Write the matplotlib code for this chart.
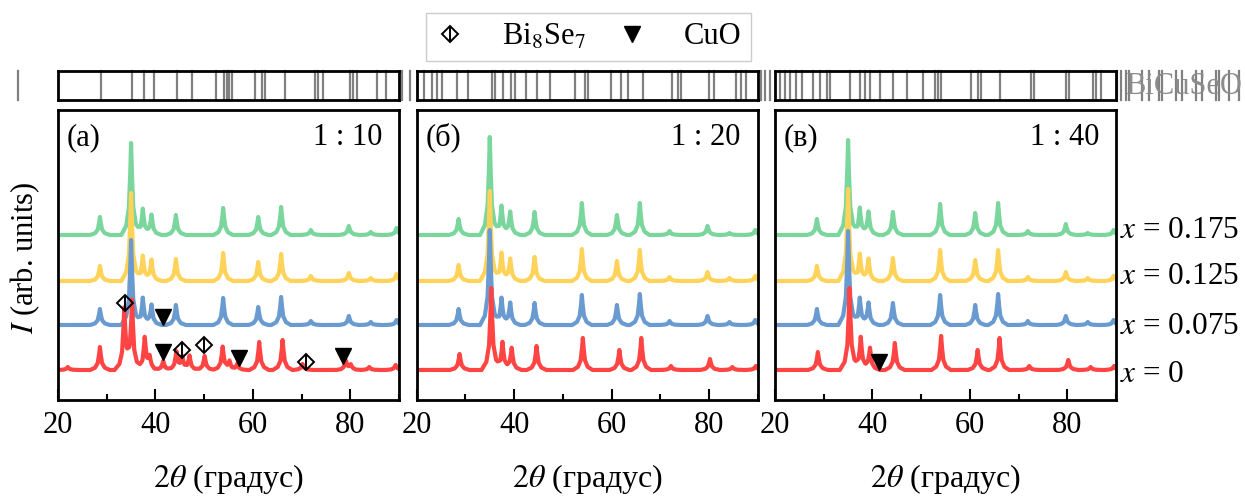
import numpy as np
import matplotlib
matplotlib.use("Agg")
import matplotlib.pyplot as plt
from matplotlib.lines import Line2D
from matplotlib.legend_handler import HandlerTuple
import matplotlib.transforms as mtransforms

plt.rcParams["font.family"] = ["Liberation Serif", "DejaVu Serif"]
plt.rcParams["mathtext.fontset"] = "stix"

PANEL_TAGS = ["(a)", "(б)", "(в)"]
RATIOS = ["1 : 10", "1 : 20", "1 : 40"]
SAMPLE_LABELS = ["$x$ = 0", "$x$ = 0.075", "$x$ = 0.125", "$x$ = 0.175"]
COLORS = ["#ff4444", "#6a9bd0", "#ffd35a", "#7ad69c"]

# BiCuSeO reflections, 2theta (deg)
PEAKS = [28.6, 35.0, 37.4, 39.2, 44.2, 53.9, 61.1, 65.8, 71.9, 79.7, 84.2, 89.5]
PEAKS_X0 = [28.8, 35.3, 37.6, 39.5, 44.6, 54.1, 61.6, 66.1, 72.2, 80.2, 84.8, 89.6]

# peak heights (arb. units)
A_X0175 = [18, 92, 26, 20, 20, 27, 18, 28, 5, 9, 3, 7]
A_X0125 = [15, 88, 25, 21, 22, 28, 19, 27, 5, 8, 3, 7]
A_X0075 = [16, 85, 27, 20, 20, 27, 18, 28, 4, 9, 3, 5]
# x = 0 in panel (a) is multiphase
A_X0_POS = [22.0, 28.6, 33.6, 35.2, 37.8, 38.8, 41.6, 44.3, 45.5, 47.0, 50.1,
            53.8, 55.2, 56.8, 61.3, 66.1, 70.2, 79.1, 80.1, 83.9, 89.3]
A_X0 = [3, 23, 60, 68, 32, 12, 9, 18, 12, 14, 14, 23, 8, 6, 28, 30, 6, 9, 5, 3, 5]

B_X0175 = [16, 98, 29, 23, 23, 32, 20, 32, 4, 9, 2, 5]
B_X0125 = [16, 90, 28, 22, 24, 32, 20, 31, 4, 9, 3, 5]
B_X0075 = [16, 95, 27, 22, 22, 30, 20, 31, 4, 9, 3, 5]
B_X0 = [16, 82, 28, 22, 24, 32, 20, 32, 4, 11, 3, 4]

C_X0175 = [16, 95, 27, 23, 23, 31, 22, 32, 4, 11, 2, 5]
C_X0125 = [15, 92, 27, 22, 23, 31, 21, 31, 4, 9, 3, 5]
C_X0075 = [16, 94, 27, 22, 22, 30, 20, 31, 4, 9, 3, 5]
C_X0 = [18, 82, 33, 22, 27, 34, 20, 32, 4, 10, 3, 4]

# impurity markers (2theta, intensity level)
BI8SE7_A_TTH = [33.7, 45.5, 49.9, 70.9]
BI8SE7_A_Y = [97, 50, 55, 38]
CUO_A_TTH = [41.6, 41.6, 57.1, 78.6]
CUO_A_Y = [83, 48, 42, 44]
CUO_C_TTH = [41.3]
CUO_C_Y = [38]

# reference line positions in the top strips
STRIP_A = [11.8, 28.9, 35.2, 37.7, 39.7, 44.4, 47.5, 52.5, 54.1, 54.7, 55.2, 55.7,
           60.5, 61.8, 62.5, 66.5, 72.7, 73.4, 74.4, 80.0, 80.6, 81.4, 85.4, 87.4,
           90.6, 92.2]
STRIP_B = [21.4, 23.1, 24.1, 25.1, 28.2, 30.6, 35.4, 36.0, 37.7, 39.4, 40.1, 42.5,
           44.6, 47.3, 52.4, 54.5, 55.1, 59.9, 62.0, 63.3, 66.4, 72.5, 73.6, 74.2,
           80.0, 81.1, 85.5, 86.5, 87.6, 90.6, 91.6, 92.6]
STRIP_C = [21.0, 22.0, 23.1, 24.4, 25.5, 27.8, 29.2, 30.6, 31.3, 35.4, 37.4, 38.4,
           39.4, 41.5, 44.2, 47.0, 50.4, 52.8, 53.4, 54.1, 60.3, 61.6, 62.3, 66.1,
           72.5, 73.2, 79.7, 80.4, 85.2, 85.9, 86.9, 90.2, 91.0, 92.1, 92.7, 95.3,
           96.8, 98.8, 99.4, 102.3, 103.5, 106.4, 107.6, 110.5, 111.1, 113.1, 115.2]

OFFSETS = [30, 75, 119, 165]
LABEL_Y = [25, 73, 123, 170]
PROFILE_DX = np.array([-2.0, -1.0, -0.45, -0.15, 0.0, 0.15, 0.45, 1.0, 2.0])
PROFILE_F = np.array([0.0, 0.1, 0.3, 0.7, 1.0, 0.7, 0.3, 0.1, 0.0])
grid = np.linspace(20, 90, 1401)


def pattern(pos, heights):
    y = np.zeros_like(grid)
    for p, h in zip(pos, heights):
        y += np.interp(grid, p + PROFILE_DX, h * PROFILE_F, left=0, right=0)
    return y


panels = [
    ([(A_X0_POS, A_X0), (PEAKS, A_X0075), (PEAKS, A_X0125), (PEAKS, A_X0175)], STRIP_A),
    ([(PEAKS_X0, B_X0), (PEAKS, B_X0075), (PEAKS, B_X0125), (PEAKS, B_X0175)], STRIP_B),
    ([(PEAKS_X0, C_X0), (PEAKS, C_X0075), (PEAKS, C_X0125), (PEAKS, C_X0175)], STRIP_C),
]

W, H = 1245, 497
fig = plt.figure(figsize=(W / 100, H / 100), dpi=100)
lefts = [58, 416.7, 775]
pw = 341

diamond_kw = dict(marker="D", ms=8, mfc="none", mec="black", mew=1.4, ls="none", zorder=5)
vbar_kw = dict(marker="|", ms=12, mec="black", mew=1.4, ls="none", zorder=5)
tri_kw = dict(marker="v", ms=11, color="black", ls="none", zorder=5)

for i, (curves, strip) in enumerate(panels):
    ax = fig.add_axes([lefts[i] / W, (H - 400) / H, pw / W, 290 / H])
    for k in [3, 2, 1, 0]:
        pos, hts = curves[k]
        ax.plot(grid, OFFSETS[k] + pattern(pos, hts), color=COLORS[k], lw=3,
                solid_joinstyle="round")
    ax.set_xlim(20, 90)
    ax.set_ylim(0, 290)
    ax.set_yticks([])
    ax.set_xticks([20, 40, 60, 80])
    ax.set_xticks([30, 50, 70, 90], minor=True)
    ax.tick_params(axis="x", which="major", direction="in", length=8, width=1.5,
                   labelsize=22, pad=8)
    ax.tick_params(axis="x", which="minor", direction="in", length=4, width=1.5)
    for s in ax.spines.values():
        s.set_linewidth(2)
    ax.set_xlabel(r"$2\theta$ (градус)", fontsize=23, labelpad=16)
    ax.text(0.025, 0.905, PANEL_TAGS[i], transform=ax.transAxes, fontsize=22,
            ha="left", va="center")
    ax.text(0.95, 0.905, RATIOS[i], transform=ax.transAxes, fontsize=22,
            ha="right", va="center")

    if i == 0:
        ax.plot(BI8SE7_A_TTH, BI8SE7_A_Y, **diamond_kw)
        ax.plot(BI8SE7_A_TTH, BI8SE7_A_Y, **vbar_kw)
        ax.plot(CUO_A_TTH, CUO_A_Y, **tri_kw)
    if i == 2:
        ax.plot(CUO_C_TTH, CUO_C_Y, **tri_kw)
        trans = mtransforms.blended_transform_factory(ax.transAxes, ax.transData)
        for lab, yy in zip(SAMPLE_LABELS, LABEL_Y):
            ax.text(1.012, yy, lab, transform=trans, fontsize=22.5, ha="left",
                    va="center", clip_on=False)

    sx = fig.add_axes([lefts[i] / W, (H - 100.3) / H, pw / W, 29.3 / H])
    sx.set_xlim(20, 90)
    sx.set_ylim(0, 1)
    sx.set_xticks([])
    sx.set_yticks([])
    for s in sx.spines.values():
        s.set_linewidth(2)
    for p in strip:
        sx.axvline(p, color="0.5", lw=1.6, clip_on=False)

fig.text(1125 / W, 1 - 86 / H, "BiCuSeO", color="0.55", fontsize=22,
         ha="left", va="center")
fig.text(25 / W, 1 - 258 / H, r"$I$ (arb. units)", rotation=90, fontsize=22,
         ha="center", va="center")

h_bi = (Line2D([], [], **diamond_kw), Line2D([], [], **vbar_kw))
h_cuo = Line2D([], [], **tri_kw)
fig.legend([h_bi, h_cuo], [r"Bi$_8$Se$_7$", "CuO"], ncol=2, loc="upper center",
           bbox_to_anchor=(588.5 / W, 1 - 13 / H), borderaxespad=0,
           frameon=True, fancybox=False, edgecolor="0.8", framealpha=1,
           fontsize=22, borderpad=0.3, handlelength=1.0, handletextpad=1.2,
           columnspacing=1.0,
           handler_map={tuple: HandlerTuple(ndivide=1, pad=0)})

fig.savefig("out.png", dpi=100)
